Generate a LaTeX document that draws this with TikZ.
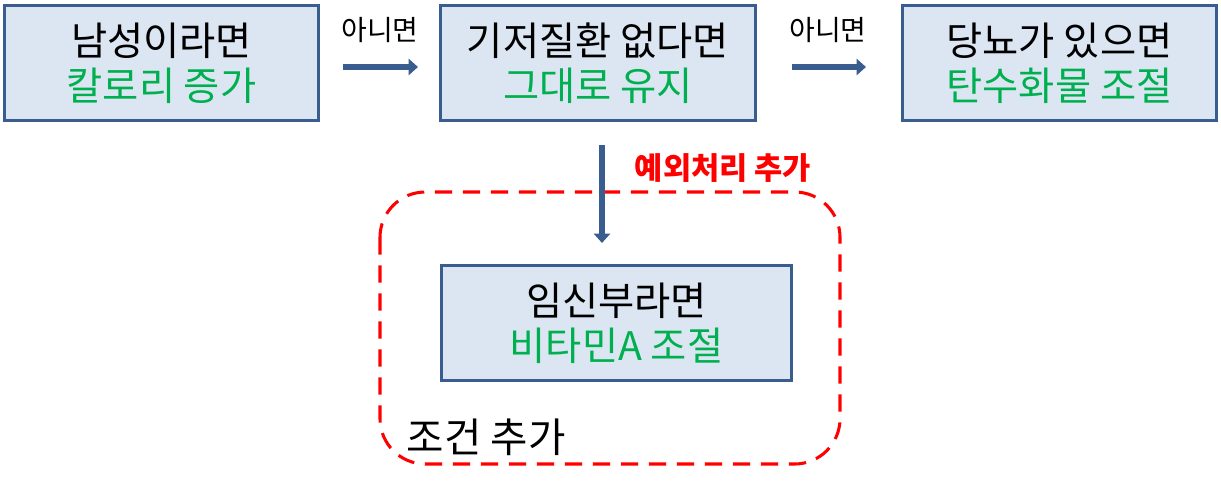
\documentclass[tikz,border=0pt]{standalone}
\usepackage{fontspec}
\setmainfont{Noto Sans CJK KR}
\usepackage{xcolor}
\usetikzlibrary{arrows.meta}

\definecolor{boxline}{HTML}{3A5D8F}
\definecolor{boxfill}{HTML}{DCE6F2}
\definecolor{okgreen}{HTML}{00B050}

\begin{document}
\begin{tikzpicture}[x=0.75pt,y=-0.75pt,
  rulebox/.style={draw=boxline,fill=boxfill,line width=2.2pt,minimum width=236pt,minimum height=86pt,align=center,font=\fontsize{29.5}{34}\selectfont},
  flowarrow/.style={draw=boxline,line width=4pt,-{Triangle[length=7pt,width=12pt]}},
  smalllabel/.style={font=\fontsize{21}{24}\selectfont}]
  \useasboundingbox (0,0) rectangle (1221,480);
  % top row
  \node[rulebox] (male) at (161.5,63) {남성이라면\\\textcolor{okgreen}{칼로리 증가}};
  \node[rulebox] (disease) at (598,63) {기저질환 없다면\\\textcolor{okgreen}{그대로 유지}};
  \node[rulebox] (diabetes) at (1059.5,63) {당뇨가 있으면\\\textcolor{okgreen}{탄수화물 조절}};
  % new condition
  \node[rulebox,minimum width=263pt] (pregnant) at (616.5,323) {임신부라면\\\textcolor{okgreen}{비타민A 조절}};
  \draw[red,line width=2.3pt,dash pattern=on 13pt off 8pt,rounded corners=34pt] (380,192) rectangle (840,464);
  \node[font=\fontsize{30.5}{32}\selectfont,anchor=west] (addcond) at (402,437) {조건 추가};
  % arrows
  \coordinate (a1s) at (343,67);
  \coordinate (a1e) at (418,67);
  \coordinate (a2s) at (792,67);
  \coordinate (a2e) at (866,67);
  \coordinate (a3s) at (602,145);
  \coordinate (a3e) at (602,243);
  \draw[flowarrow] (a1s) -- (a1e);
  \draw[flowarrow] (a2s) -- (a2e);
  \draw[flowarrow] (a3s) -- (a3e);
  \node[smalllabel] (else1) at (380,30) {아니면};
  \node[smalllabel] (else2) at (828,30) {아니면};
  \node[font=\fontsize{23}{26}\selectfont\bfseries,text=red] (exc) at (723,168) {예외처리 추가};
\end{tikzpicture}
\end{document}
